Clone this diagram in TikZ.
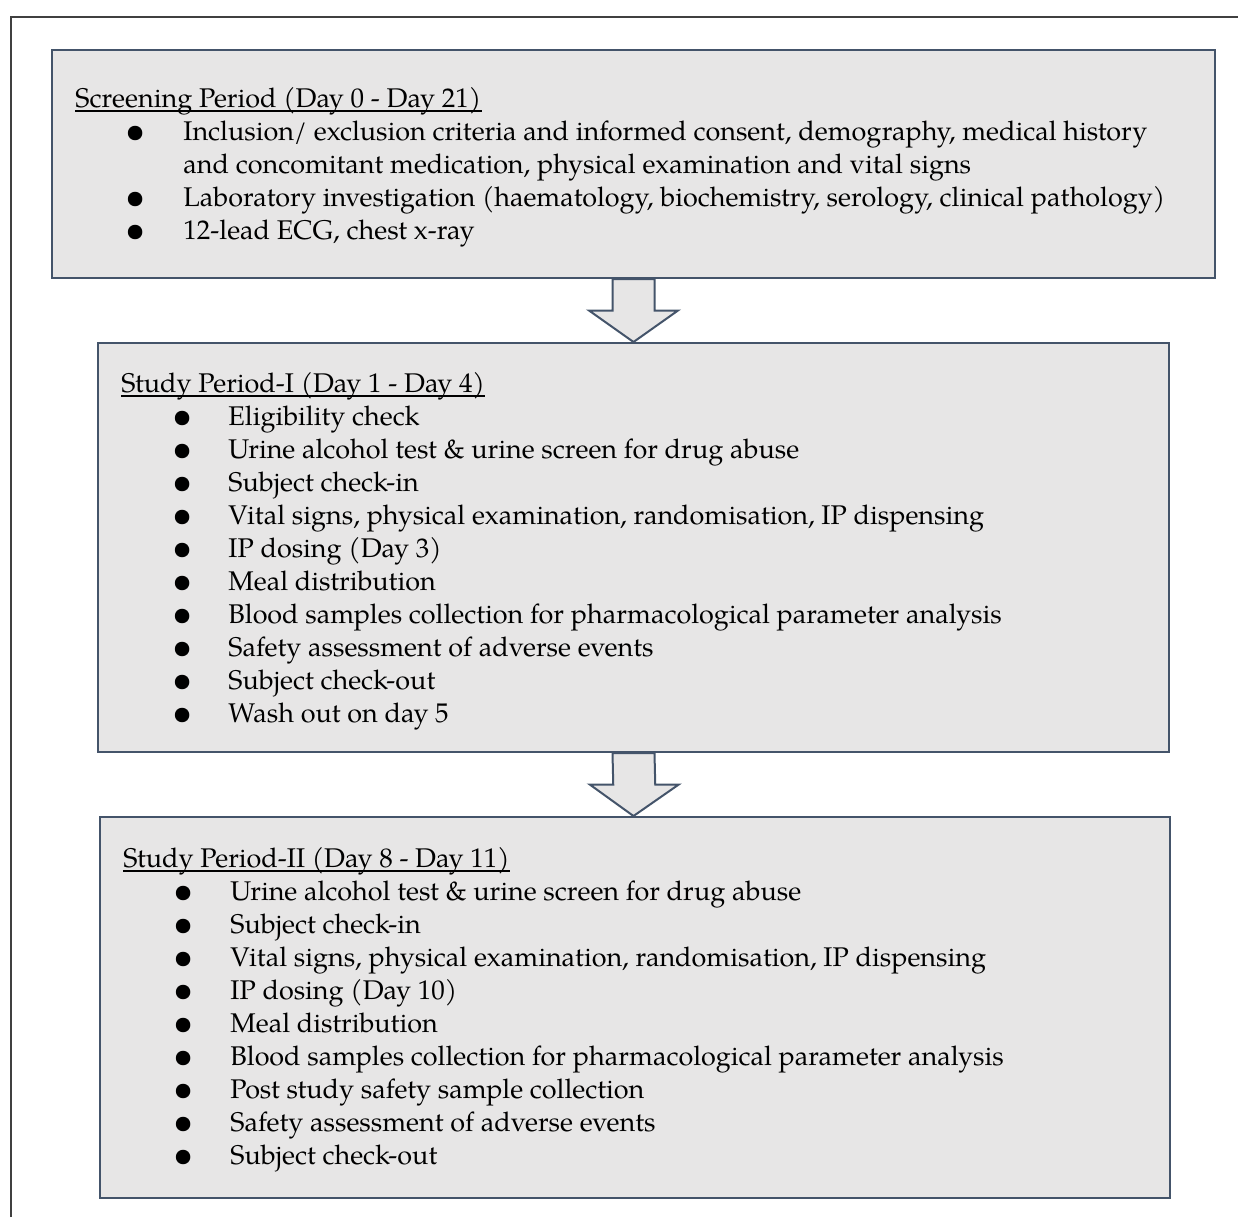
\documentclass[tikz,border=0pt]{standalone}
\usepackage{fontspec}
\setmainfont{TeX Gyre Pagella}
\usetikzlibrary{calc,fit}

\definecolor{boxline}{HTML}{44546A}
\definecolor{boxfill}{HTML}{E7E6E6}
\definecolor{frameline}{HTML}{404040}

\tikzset{
  periodbox/.style={draw=boxline,fill=boxfill,line width=1pt,inner sep=0pt},
  blockarrow/.style={draw=boxline,fill=boxfill,line width=1pt,line join=miter},
  headtext/.style={anchor=base west,inner sep=0pt,font=\fontsize{13.5}{16}\selectfont},
  itemtext/.style={anchor=base west,inner sep=0pt,font=\fontsize{13.5}{16}\selectfont},
  dot/.style={anchor=base,inner sep=0pt,yshift=-1pt,font=\fontsize{18}{20}\selectfont},
  headline/.style={line width=0.6pt}
}

\begin{document}
\begin{tikzpicture}[x=0.5pt,y=-0.5pt]
\useasboundingbox (0,0) rectangle (1238,1217);
\draw[frameline,line width=0.7pt] (11,1217) -- (11,17) -- (1238,17);

% the three periods
\node[periodbox,fit={(52,50) (1215,278)}] (screen) {};
\node[periodbox,fit={(98,343) (1169,752)}] (periodI) {};
\node[periodbox,fit={(100,817) (1170,1198)}] (periodII) {};

% arrows between periods
\foreach \a/\b in {screen/periodI,periodI/periodII}{
  \coordinate (mid) at ($(\a.south)!0.5!(\b.north)$);
  \draw[blockarrow] ([xshift=-10.5pt]\a.south) -- ([xshift=-10.5pt]mid)
    -- ([xshift=-22.25pt]mid) -- (\a.south |- \b.north) -- ([xshift=22.25pt]mid)
    -- ([xshift=10.5pt]mid) -- ([xshift=10.5pt]\a.south) -- cycle;
}

% screening
\node[headtext] (screenhead) at (75,107) {Screening Period (Day 0 - Day 21)};
\draw[headline] ([yshift=-2pt]screenhead.base west) -- ([yshift=-2pt]screenhead.base east);
\node[dot] (sdot1) at (136,140) {\textbullet};
\node[itemtext] (s1a) at (183,140) {Inclusion/ exclusion criteria and informed consent, demography, medical history};
\node[itemtext] (s1b) at (183,173) {and concomitant medication, physical examination and vital signs};
\node[dot] (sdot2) at (136,206) {\textbullet};
\node[itemtext] (s2) at (183,206) {Laboratory investigation (haematology, biochemistry, serology, clinical pathology)};
\node[dot] (sdot3) at (136,239) {\textbullet};
\node[itemtext] (s3) at (183,239) {12-lead ECG, chest x-ray};

% study period I
\node[headtext] (pIhead) at (121,392) {Study Period-I (Day 1 - Day 4)};
\draw[headline] ([yshift=-2pt]pIhead.base west) -- ([yshift=-2pt]pIhead.base east);
\foreach \t [count=\i] in {{Eligibility check},
    {Urine alcohol test \& urine screen for drug abuse},
    {Subject check-in},
    {Vital signs, physical examination, randomisation, IP dispensing},
    {IP dosing (Day 3)},
    {Meal distribution},
    {Blood samples collection for pharmacological parameter analysis},
    {Safety assessment of adverse events},
    {Subject check-out},
    {Wash out on day 5}}{
  \node[dot] (pIdot\i) at (183,392+33*\i) {\textbullet};
  \node[itemtext] (pI\i) at (228,392+33*\i) {\t};
}

% study period II
\node[headtext] (pIIhead) at (123,867) {Study Period-II (Day 8 - Day 11)};
\draw[headline] ([yshift=-2pt]pIIhead.base west) -- ([yshift=-2pt]pIIhead.base east);
\foreach \t [count=\i] in {{Urine alcohol test \& urine screen for drug abuse},
    {Subject check-in},
    {Vital signs, physical examination, randomisation, IP dispensing},
    {IP dosing (Day 10)},
    {Meal distribution},
    {Blood samples collection for pharmacological parameter analysis},
    {Post study safety sample collection},
    {Safety assessment of adverse events},
    {Subject check-out}}{
  \node[dot] (pIIdot\i) at (184,867+33*\i) {\textbullet};
  \node[itemtext] (pII\i) at (230,867+33*\i) {\t};
}
\end{tikzpicture}
\end{document}
